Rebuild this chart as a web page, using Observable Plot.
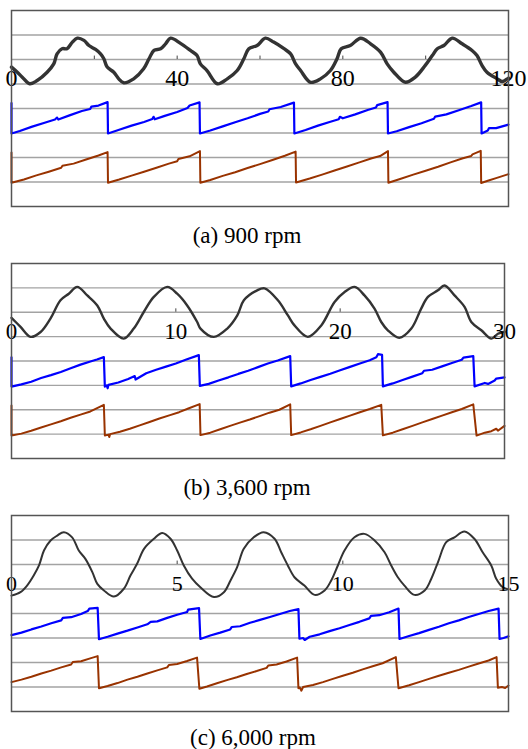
<!DOCTYPE html>
<html>
<head>
<meta charset="utf-8">
<script src="https://cdn.jsdelivr.net/npm/d3@7"></script>
<script src="https://cdn.jsdelivr.net/npm/@observablehq/plot@0.6"></script>
<style>
  html, body { margin: 0; padding: 0; background: #fff; }
  #root { position: relative; width: 528px; height: 749px; overflow: hidden; background: #fff; }
  .panel { position: absolute; left: 0; }
  .cap { position: absolute; width: 400px; text-align: center; font-family: "Liberation Serif", "Times New Roman", serif; font-size: 23px; line-height: 1; color: #000; white-space: nowrap; }
</style>
</head>
<body>
<div id="root"></div>
<script>
// ---------- data ----------
const captions = ["(a) 900 rpm", "(b) 3,600 rpm", "(c) 6,000 rpm"];
const gridLevels = [1, 2, 3, 4, 5, 6, 7];
const axisLevel = 6;

const p1Ticks = [0, 20, 40, 60, 80, 100, 120];
const p1Labels = [0, 40, 80, 120];
const p2Ticks = [0, 10, 20, 30];
const p2Labels = [0, 10, 20, 30];
const p3Ticks = [0, 5, 10, 15];
const p3Labels = [0, 5, 10, 15];

// panel (a) 900 rpm
const p1Black = [[0,5.69],[1.4,5.48],[2.6,5.28],[4.4,5.01],[6.2,5.14],[8.6,5.48],[10.2,5.82],[11.0,6.23],[12.2,6.44],[13.4,6.44],[14.7,6.71],[15.9,6.87],[17.5,6.78],[18.7,6.57],[20.3,6.41],[21.5,6.23],[22.3,6.03],[23.1,5.69],[24.7,5.48],[25.9,5.21],[27.1,5.05],[29.5,5.21],[31.9,5.62],[33.2,6.03],[34.4,6.37],[36.0,6.44],[37.2,6.64],[38.4,6.87],[40.8,6.66],[43.2,6.37],[44.8,6.16],[45.6,5.82],[47.2,5.55],[49.7,5.01],[52.1,5.21],[54.5,5.55],[56.1,6.03],[57.3,6.44],[59.3,6.57],[61.3,6.87],[63.3,6.71],[65.8,6.44],[67.4,6.23],[68.6,5.82],[69.8,5.55],[72.2,5.07],[74.6,5.21],[77.0,5.55],[78.6,6.03],[79.6,6.44],[81.8,6.57],[84.3,6.87],[86.7,6.64],[89.1,6.30],[90.7,5.82],[92.3,5.48],[95.1,5.07],[97.5,5.28],[99.9,5.76],[101.6,6.16],[102.8,6.44],[104.4,6.57],[106.4,6.87],[108.8,6.64],[111.2,6.37],[112.4,6.16],[113.6,5.76],[114.8,5.48],[117.3,5.21],[118.5,5.10],[119.7,5.21],[120,5.24]];
const p1Blue = [[0,4.22],[0,2.98],[2,3.08],[5,3.26],[8,3.42],[10.5,3.55],[11,3.63],[11.3,3.55],[14,3.72],[17,3.9],[19,3.98],[19.3,4.08],[21,4.12],[23.2,4.26],
  [23.3,2.98],[26,3.13],[29,3.3],[32,3.45],[34,3.57],[34.3,3.66],[34.6,3.56],[37,3.7],[40,3.86],[42.5,4.02],[43,4.12],[45.4,4.25],
  [45.5,2.98],[48,3.1],[51,3.27],[54,3.44],[57,3.6],[60,3.78],[62,3.88],[62.3,3.97],[65,4.06],[68.2,4.24],
  [68.3,2.98],[71,3.12],[74,3.3],[77,3.46],[79,3.56],[79.3,3.66],[80,3.6],[83,3.76],[86,3.94],[88,4.04],[88.3,4.14],[90.8,4.26],
  [90.9,2.98],[93,3.07],[96,3.24],[99,3.4],[102,3.58],[102.3,3.67],[105,3.76],[108,3.93],[111,4.1],[113.4,4.25],
  [113.5,2.98],[115,3.1],[115.3,3.2],[117,3.2],[120,3.34]];
const p1Brown = [[0,2.2],[0,0.97],[3,1.1],[6,1.27],[9,1.42],[12,1.58],[12.3,1.66],[15,1.75],[18,1.92],[21,2.08],[23.2,2.22],
  [23.3,0.97],[26,1.1],[29,1.26],[32,1.42],[35,1.58],[38,1.75],[40,1.85],[40.3,1.94],[43,2.05],[45.5,2.26],
  [45.6,0.97],[48,1.08],[51,1.25],[54,1.4],[57,1.57],[60,1.73],[63,1.9],[66,2.07],[68.6,2.24],
  [68.7,0.98],[72,1.14],[75,1.3],[78,1.47],[81,1.63],[84,1.8],[87,1.97],[89,2.06],[90.9,2.26],
  [91.0,0.97],[94,1.13],[97,1.3],[100,1.46],[103,1.62],[106,1.8],[109,1.97],[111,2.06],[111.3,2.13],[113.3,2.27],
  [113.4,0.96],[115,1.05],[117,1.16],[120,1.32]];

// panel (b) 3,600 rpm
const p2Black = [[0,5.77],[0.55,5.40],[1.16,4.99],[1.77,5.19],[2.37,5.74],[2.98,6.49],[3.49,6.76],[4.0,7.04],[4.61,6.69],[5.22,6.28],[5.62,5.74],[6.03,5.33],[6.83,4.92],[7.44,5.33],[8.05,6.01],[8.66,6.63],[9.48,7.04],[10.08,6.76],[10.69,6.28],[11.3,5.60],[11.5,5.33],[12.31,4.99],[13.13,5.33],[13.74,5.87],[14.14,6.49],[14.95,6.90],[15.4,6.98],[16.21,6.49],[16.82,5.87],[17.22,5.46],[18.03,4.99],[18.85,5.46],[19.66,6.42],[20.27,6.83],[20.88,7.04],[21.48,6.69],[22.09,6.15],[22.5,5.60],[22.9,5.26],[23.6,4.95],[24.33,5.33],[24.93,6.15],[25.34,6.63],[25.95,6.90],[26.35,7.10],[26.96,6.69],[27.57,6.22],[27.98,5.60],[28.59,5.26],[29.2,4.92],[29.6,5.12],[30,5.2]];
const p2Blue = [[0,4.15],[0,2.95],[0.6,3.04],[1.2,3.15],[1.8,3.3],[2.4,3.42],[3,3.55],[3.6,3.7],[4.2,3.85],[4.8,3.98],[5.2,4.06],[5.62,4.16],
  [5.68,2.95],[5.8,3.0],[5.85,2.88],[5.9,3.02],[6.5,3.12],[7.1,3.26],[7.5,3.38],[7.55,3.24],[8.2,3.5],[8.8,3.64],[9.4,3.77],[10,3.9],[10.6,4.05],[11.4,4.24],
  [11.46,2.98],[12,3.06],[12.6,3.2],[13.2,3.33],[13.8,3.47],[14.4,3.6],[15,3.75],[15.6,3.9],[16.2,4.02],[16.96,4.2],
  [17.02,2.96],[17.6,3.08],[18.2,3.22],[18.8,3.35],[19.4,3.48],[20,3.62],[20.6,3.76],[21.2,3.9],[21.8,4.03],[22.2,4.15],[22.3,4.28],[22.55,4.25],
  [22.6,2.96],[23.2,3.08],[23.8,3.22],[24.4,3.36],[25,3.5],[25.1,3.6],[25.6,3.64],[26.2,3.78],[26.8,3.92],[27.4,4.05],[27.5,4.14],[28.1,4.2],
  [28.18,2.96],[28.8,3.1],[29,3.06],[29.4,3.2],[29.5,3.28],[30,3.33]];
const p2Brown = [[0,2.17],[0,0.94],[0.6,1.02],[1.2,1.14],[1.8,1.27],[2.4,1.4],[3,1.53],[3.6,1.67],[4.2,1.8],[4.8,1.93],[5.62,2.2],
  [5.68,0.94],[5.9,0.98],[5.95,0.88],[6.0,1.0],[6.6,1.1],[7.2,1.22],[7.8,1.36],[8.4,1.5],[9,1.64],[9.6,1.77],[10.2,1.9],[10.8,2.06],[11.45,2.23],
  [11.5,0.96],[12.1,1.06],[12.7,1.2],[13.3,1.34],[13.9,1.47],[14.5,1.6],[15.1,1.74],[15.7,1.88],[16.3,2.0],[16.96,2.22],
  [17.02,0.96],[17.6,1.07],[18.2,1.2],[18.8,1.34],[19.4,1.48],[20,1.62],[20.6,1.76],[21.2,1.9],[21.8,2.03],[22.5,2.2],
  [22.6,0.95],[23.2,1.06],[23.8,1.2],[24.4,1.34],[25,1.48],[25.6,1.62],[26.2,1.76],[26.8,1.9],[27.4,2.03],[28.1,2.22],
  [28.3,0.94],[28.8,1.06],[29.2,1.12],[29.5,1.22],[29.6,1.14],[30,1.34]];

// panel (c) 6,000 rpm
const p3Black = [[0,4.73],[0.27,4.87],[0.47,5.14],[0.67,5.55],[0.83,5.96],[0.98,6.57],[1.18,6.98],[1.38,7.18],[1.58,7.32],[1.83,7.11],[2.03,6.57],[2.23,6.23],[2.44,5.69],[2.59,5.21],[2.79,4.94],[3.09,4.69],[3.39,5.01],[3.59,5.55],[3.79,6.03],[4.0,6.64],[4.3,7.05],[4.55,7.29],[4.8,7.05],[5.0,6.57],[5.2,5.96],[5.45,5.42],[5.7,5.07],[6.11,4.67],[6.41,4.87],[6.61,5.35],[6.81,5.89],[7.01,6.64],[7.31,7.11],[7.61,7.32],[7.94,7.05],[8.14,6.50],[8.34,5.96],[8.54,5.48],[8.84,5.14],[9.15,4.76],[9.45,4.94],[9.65,5.35],[9.85,5.96],[10.05,6.57],[10.35,7.11],[10.65,7.25],[10.96,6.98],[11.26,6.50],[11.46,5.96],[11.66,5.48],[11.86,5.14],[12.16,4.76],[12.47,4.94],[12.67,5.42],[12.87,6.09],[13.12,6.91],[13.37,7.11],[13.67,7.35],[13.97,7.05],[14.22,6.50],[14.48,5.96],[14.63,5.42],[14.83,5.07],[15,4.98]];
const p3Blue = [[0,3.12],[0.3,3.22],[0.6,3.35],[0.9,3.47],[1.2,3.6],[1.5,3.72],[1.55,3.82],[1.8,3.85],[2.1,3.98],[2.3,4.1],[2.35,4.2],[2.6,4.23],
  [2.64,2.95],[2.9,3.05],[3.2,3.18],[3.5,3.3],[3.8,3.43],[4.1,3.56],[4.2,3.66],[4.4,3.68],[4.7,3.82],[5.0,3.95],[5.3,4.06],[5.33,4.16],[5.66,4.22],
  [5.70,2.96],[6.0,3.1],[6.3,3.22],[6.6,3.35],[6.65,3.45],[6.9,3.48],[7.2,3.62],[7.5,3.74],[7.8,3.86],[8.1,3.98],[8.4,4.1],[8.66,4.18],
  [8.69,2.97],[8.8,3.0],[8.85,2.92],[9.0,3.05],[9.3,3.15],[9.6,3.28],[9.9,3.4],[10.2,3.53],[10.5,3.66],[10.8,3.8],[10.85,3.9],[11.1,3.93],[11.4,4.05],[11.68,4.2],
  [11.71,2.96],[12.0,3.08],[12.3,3.2],[12.6,3.33],[12.9,3.46],[13.2,3.6],[13.5,3.72],[13.8,3.86],[14.1,3.98],[14.4,4.1],[14.7,4.2],
  [14.73,2.96],[14.85,3.0],[15,3.07]];
const p3Brown = [[0,1.2],[0.3,1.3],[0.6,1.42],[0.9,1.55],[1.2,1.67],[1.5,1.8],[1.8,1.92],[1.85,2.02],[2.1,2.05],[2.4,2.18],[2.6,2.26],
  [2.64,0.95],[2.9,1.04],[3.2,1.16],[3.5,1.3],[3.8,1.42],[4.1,1.55],[4.4,1.68],[4.7,1.8],[4.75,1.9],[5.0,1.94],[5.3,2.06],[5.6,2.2],
  [5.67,0.93],[5.9,1.02],[6.2,1.15],[6.5,1.28],[6.8,1.4],[7.1,1.53],[7.4,1.65],[7.7,1.78],[7.75,1.88],[8.0,1.92],[8.3,2.04],[8.62,2.2],
  [8.66,0.95],[8.7,0.98],[8.75,0.85],[8.8,1.0],[9.1,1.08],[9.4,1.2],[9.7,1.33],[10.0,1.46],[10.3,1.58],[10.6,1.72],[10.9,1.85],[11.2,1.97],[11.6,2.22],
  [11.68,0.95],[12.0,1.07],[12.3,1.2],[12.6,1.33],[12.9,1.46],[13.2,1.58],[13.5,1.7],[13.8,1.83],[14.1,1.96],[14.4,2.08],[14.64,2.22],
  [14.68,0.97],[14.8,1.0],[14.9,0.96],[15,1.06]];

// ---------- drawing ----------
const colors = {black: "#333333", blue: "#0000ff", brown: "#993300", grid: "#a3a3a3", frame: "#555555"};
const serif = "'Liberation Serif', 'Times New Roman', serif";

function panel(cfg) {
  return Plot.plot({
    width: 528, height: 215,
    marginLeft: 11, marginRight: cfg.marginRight, marginTop: 10, marginBottom: cfg.marginBottom,
    x: {domain: [0, cfg.xmax], axis: null},
    y: {domain: [0, 8], axis: null},
    style: {background: "transparent", overflow: "visible"},
    marks: [
      Plot.ruleY(gridLevels, {stroke: colors.grid, strokeWidth: 1.3}),
      Plot.ruleX(cfg.ticks, {x: d => d, y1: axisLevel, y2: axisLevel + 0.14, stroke: "#444", strokeWidth: 1}),
      Plot.line(cfg.brown, {x: d => d[0], y: d => d[1], stroke: colors.brown, strokeWidth: 2, strokeLinejoin: "round"}),
      Plot.line(cfg.blue, {x: d => d[0], y: d => d[1], stroke: colors.blue, strokeWidth: 2.2, strokeLinejoin: "round"}),
      Plot.line(cfg.black, {x: d => d[0], y: d => d[1], stroke: colors.black, strokeWidth: cfg.blackWidth, strokeLinejoin: "round", curve: "catmull-rom"}),
      Plot.text(cfg.labels, {x: d => d, y: axisLevel, dy: 19, text: d => String(d), fontSize: cfg.labelSize, fontFamily: serif, fill: "#000"}),
      Plot.frame({stroke: colors.frame, strokeWidth: 1.5})
    ]
  });
}

const root = document.getElementById("root");
const panels = [
  {top: 0, xmax: 120, marginRight: 20, marginBottom: 9, ticks: p1Ticks, labels: p1Labels, black: p1Black, blue: p1Blue, brown: p1Brown, blackWidth: 3.4, labelSize: 24, capTop: 224, capCenter: 247},
  {top: 253, xmax: 30, marginRight: 24, marginBottom: 10, ticks: p2Ticks, labels: p2Labels, black: p2Black, blue: p2Blue, brown: p2Brown, blackWidth: 2.4, labelSize: 23, capTop: 476, capCenter: 247},
  {top: 505, xmax: 15, marginRight: 20, marginBottom: 9, ticks: p3Ticks, labels: p3Labels, black: p3Black, blue: p3Blue, brown: p3Brown, blackWidth: 2.0, labelSize: 22, capTop: 726, capCenter: 253}
];
panels.forEach((cfg, i) => {
  const wrap = document.createElement("div");
  wrap.className = "panel";
  wrap.style.top = cfg.top + "px";
  wrap.appendChild(panel(cfg));
  root.appendChild(wrap);
  const cap = document.createElement("div");
  cap.className = "cap";
  cap.style.top = cfg.capTop + "px";
  cap.style.left = (cfg.capCenter - 200) + "px";
  cap.textContent = captions[i];
  root.appendChild(cap);
});
</script>
</body>
</html>
